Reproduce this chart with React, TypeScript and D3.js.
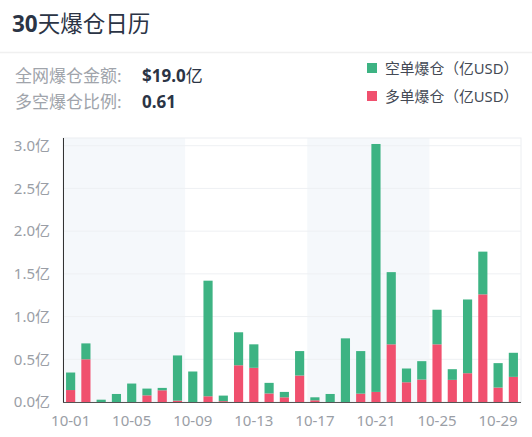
import React from "react";
import * as d3 from "d3";

const days = [
  "10-01", "10-02", "10-03", "10-04", "10-05", "10-06", "10-07", "10-08", "10-09", "10-10",
  "10-11", "10-12", "10-13", "10-14", "10-15", "10-16", "10-17", "10-18", "10-19", "10-20",
  "10-21", "10-22", "10-23", "10-24", "10-25", "10-26", "10-27", "10-28", "10-29", "10-30",
];

// 多单爆仓 (long, red, bottom of the stack)
const longLiq = [
  0.14, 0.5, 0, 0, 0, 0.078, 0.137, 0.016, 0, 0.067,
  0.01, 0.43, 0.4, 0.1, 0.055, 0.31, 0.02, 0, 0, 0.098,
  0.118, 0.675, 0.231, 0.263, 0.675, 0.259, 0.337, 1.26, 0.169, 0.294,
];

// 空单爆仓 (short, green, on top)
const shortLiq = [
  0.205, 0.186, 0.027, 0.094, 0.216, 0.079, 0.028, 0.529, 0.357, 1.353,
  0.065, 0.386, 0.275, 0.124, 0.063, 0.286, 0.035, 0.094, 0.745, 0.498,
  2.902, 0.845, 0.161, 0.215, 0.405, 0.125, 0.863, 0.5, 0.286, 0.282,
];

const yTicks = [0, 0.5, 1.0, 1.5, 2.0, 2.5, 3.0];
const xTickDays = ["10-01", "10-05", "10-09", "10-13", "10-17", "10-21", "10-25", "10-29"];
const bandGroups = [
  ["10-01", "10-08"],
  ["10-17", "10-24"],
];

const GREEN = "#3db383";
const RED = "#f0506e";
const FONT = "'Noto Sans', 'Noto Sans CJK SC', sans-serif";

const W = 532;
const H = 437;
const margin = { top: 138, right: 11, bottom: 35, left: 63 };

export default function App() {
  const innerW = W - margin.left - margin.right;
  const innerH = H - margin.top - margin.bottom;

  const x = d3.scaleBand().domain(days).range([0, innerW]).paddingInner(0.4).paddingOuter(0.2);
  const y = d3.scaleLinear().domain([0, 3.09]).range([innerH, 0]);

  const rows = days.map((d, i) => ({ day: d, long: longLiq[i], short: shortLiq[i] }));
  const stack = d3.stack<any>().keys(["long", "short"])(rows);
  const colors: Record<string, string> = { long: RED, short: GREEN };

  const slotW = innerW / days.length;
  const slotStart = (d: string) => days.indexOf(d) * slotW;

  return (
    <svg width={W} height={H} style={{ position: "absolute", left: 0, top: 0, background: "#fff" }}>
      <text x={12} y={32} fontFamily={FONT} fontSize={22.5} fontWeight={700} fill="#2b3445">
        30<tspan fontWeight={400}>天爆仓日历</tspan>
      </text>
      <line x1={0} x2={W} y1={52.5} y2={52.5} stroke="#f0f0f0" strokeWidth={1.5} />

      <text x={15} y={82} fontFamily={FONT} fontSize={17} fill="#a0a4ab">全网爆仓金额:</text>
      <text x={142} y={82} fontFamily={FONT} fontSize={17} fontWeight={700} fill="#2b3445">
        $19.0<tspan fontWeight={400}>亿</tspan>
      </text>
      <text x={15} y={108} fontFamily={FONT} fontSize={17} fill="#a0a4ab">多空爆仓比例:</text>
      <text x={142} y={108} fontFamily={FONT} fontSize={17} fontWeight={700} fill="#2b3445">0.61</text>

      <rect x={367} y={63} width={10} height={10} fill={GREEN} />
      <text x={385} y={73.5} fontFamily={FONT} fontSize={14.8} fill="#444a55">空单爆仓（亿USD）</text>
      <rect x={367} y={91} width={10} height={10} fill={RED} />
      <text x={385} y={101.5} fontFamily={FONT} fontSize={14.8} fill="#444a55">多单爆仓（亿USD）</text>

      <g transform={`translate(${margin.left},${margin.top})`}>
        {bandGroups.map(([a, b]) => (
          <rect
            key={a}
            x={slotStart(a)}
            y={0}
            width={slotStart(b) + slotW - slotStart(a)}
            height={innerH}
            fill="#f5f8fb"
          />
        ))}
        <rect x={0} y={0} width={innerW} height={innerH} fill="none" stroke="#eceef1" />
        {yTicks.slice(1).map((t) => (
          <line key={t} x1={0} x2={innerW} y1={y(t)} y2={y(t)} stroke="#eef0f3" />
        ))}
        {stack.map((layer) => (
          <g key={layer.key} fill={colors[layer.key]}>
            {layer.map((seg, i) => (
              <rect
                key={i}
                x={x(days[i])}
                y={y(seg[1])}
                width={x.bandwidth()}
                height={Math.max(0, y(seg[0]) - y(seg[1]))}
              />
            ))}
          </g>
        ))}
        <line x1={0.5} x2={0.5} y1={0} y2={innerH} stroke="#333" strokeWidth={1} />
        <line x1={0} x2={innerW} y1={innerH + 0.5} y2={innerH + 0.5} stroke="#555" strokeWidth={1.2} />
        {yTicks.map((t) => (
          <text
            key={t}
            x={-13}
            y={y(t)}
            dy="0.35em"
            textAnchor="end"
            fontFamily={FONT}
            fontSize={15}
            fill="#9a9ea6"
          >
            {d3.format(".1f")(t)}亿
          </text>
        ))}
        {xTickDays.map((d) => (
          <text
            key={d}
            x={(x(d) ?? 0) + x.bandwidth() / 2}
            y={innerH + 24}
            textAnchor="middle"
            fontFamily={FONT}
            fontSize={15}
            fill="#9a9ea6"
          >
            {d}
          </text>
        ))}
      </g>
    </svg>
  );
}
